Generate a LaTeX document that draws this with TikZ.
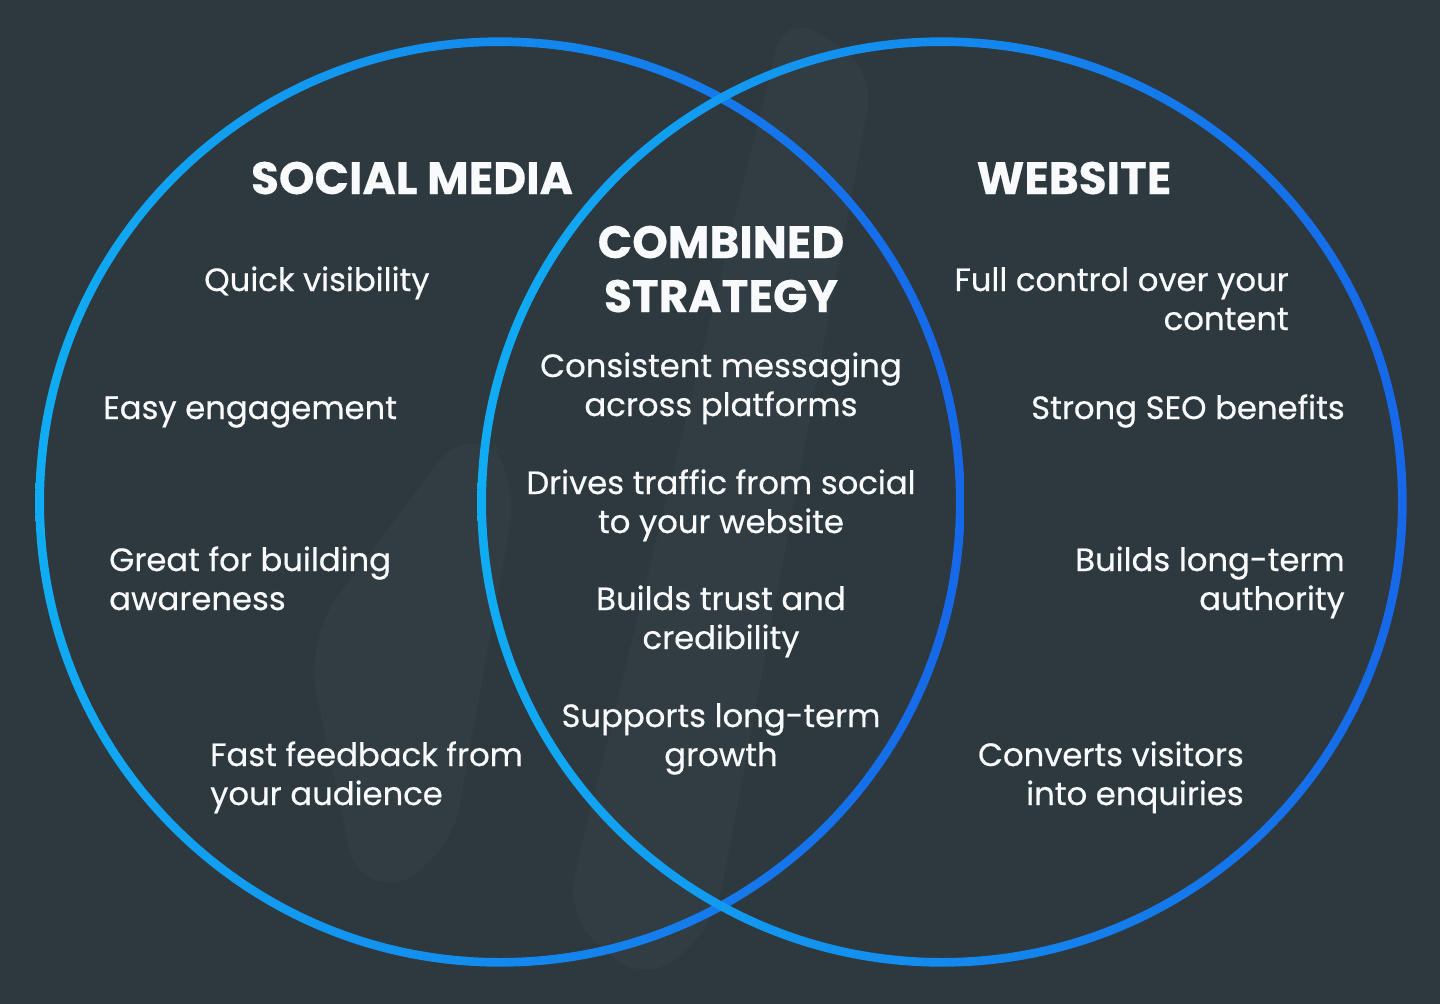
\documentclass[tikz,border=0pt]{standalone}
\usepackage{fontspec}
\setmainfont{Poppins}
\newfontfamily\bodyfont{Poppins}[FakeBold=0.5]
\newfontfamily\titlefont{Poppins}[FakeBold=0.4]
\definecolor{bg}{RGB}{45,56,63}
\definecolor{wm}{RGB}{49,60,67}
\definecolor{lblue}{RGB}{16,172,243}
\definecolor{dblue}{RGB}{22,104,233}
\definecolor{txt}{RGB}{248,250,251}
\begin{document}
\begin{tikzpicture}[x=0.75pt,y=-0.75pt,
  body/.style={text=txt, font=\bodyfont\fontsize{24.2}{29.25}\selectfont, inner sep=0pt},
  ttl/.style={text=txt, font=\titlefont\fontsize{34}{40.5}\selectfont\bfseries, inner sep=0pt},
  ring/.style={even odd rule, left color=lblue, right color=dblue}]
\useasboundingbox (0,0) rectangle (1440,1004);
\fill[bg] (0,0) rectangle (1440,1004);
% faint watermark
\fill[wm, rounded corners=30pt] (785,12) -- (875,70) -- (715,925) -- (645,985) -- (565,915) -- cycle;
\fill[wm, rounded corners=40pt] (470,420) -- (520,470) -- (450,860) -- (360,900) -- (305,640) -- cycle;
% circles
\coordinate (cl) at (500,502);
\coordinate (cr) at (942,502);
\shade[ring] (cl) circle[radius=348.5pt] (cl) circle[radius=342pt];
\shade[ring] (cr) circle[radius=348.5pt] (cr) circle[radius=342pt];
% titles
\node[ttl, anchor=base] (tsm) at (412,194) {SOCIAL MEDIA};
\node[ttl, anchor=base] (tws) at (1074,194) {WEBSITE};
\node[ttl, anchor=base, align=center] (tcs) at (721,312) {COMBINED\\STRATEGY};
% social media
\node[body, anchor=base west] (s1) at (204,291) {Quick visibility};
\node[body, anchor=base west] (s2) at (103,419) {Easy engagement};
\node[body, anchor=base west, align=left] (s3) at (109,610) {Great for building\\awareness};
\node[body, anchor=base west, align=left] (s4) at (210,805) {Fast feedback from\\your audience};
% combined
\node[body, anchor=base, align=center] (c1) at (721,416) {Consistent messaging\\across platforms};
\node[body, anchor=base, align=center] (c2) at (721,533) {Drives traffic from social\\to your website};
\node[body, anchor=base, align=center] (c3) at (721,649) {Builds trust and\\credibility};
\node[body, anchor=base, align=center] (c4) at (721,766) {Supports long-term\\growth};
% website
\node[body, anchor=base east, align=right] (w1) at (1289,330) {Full control over your\\content};
\node[body, anchor=base east] (w2) at (1345,419) {Strong SEO benefits};
\node[body, anchor=base east, align=right] (w3) at (1345,610) {Builds long-term\\authority};
\node[body, anchor=base east, align=right] (w4) at (1244,805) {Converts visitors\\into enquiries};
\end{tikzpicture}
\end{document}
